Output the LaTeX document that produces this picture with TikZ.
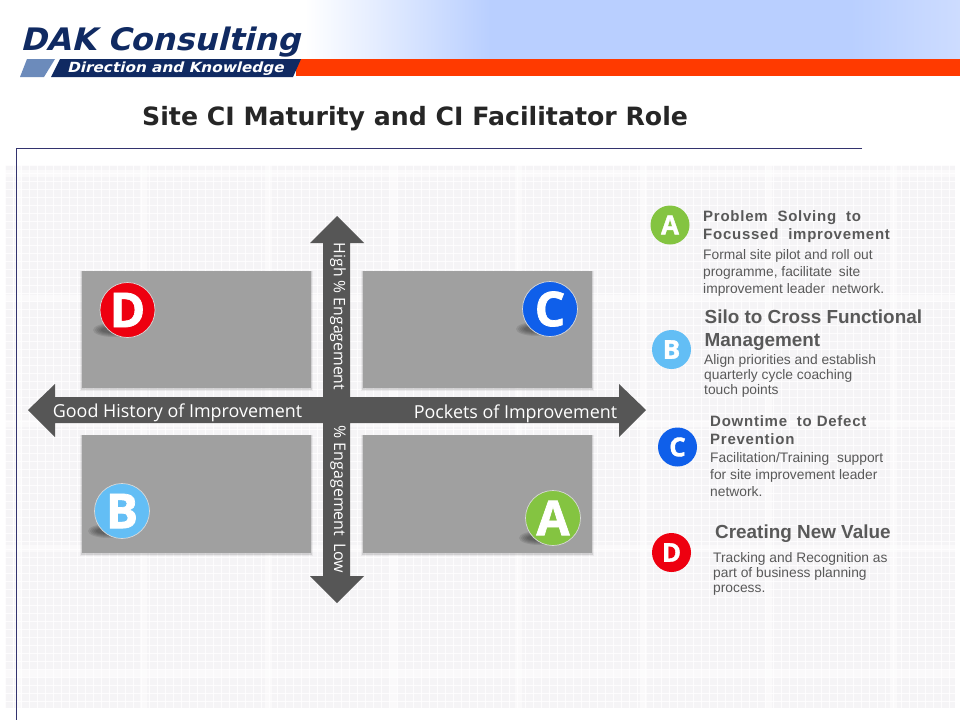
\documentclass[tikz,border=0pt]{standalone}
\usepackage{fontspec}
\setmainfont{Liberation Sans}
\newfontfamily\tah{DejaVu Sans}
\newfontfamily\vera{Open Sans}
\usetikzlibrary{shadows,fadings,calc}
\definecolor{navy}{HTML}{102A62}
\definecolor{steel}{HTML}{6C8BBB}
\definecolor{redbar}{HTML}{FF3A00}
\definecolor{sky}{HTML}{B9CFFF}
\definecolor{skyend}{HTML}{CDDCFF}
\definecolor{frameblue}{HTML}{33336E}
\definecolor{arrowgrey}{HTML}{565656}
\definecolor{boxgrey}{HTML}{A0A0A0}
\definecolor{txtgrey}{HTML}{595959}
\definecolor{bgtex}{HTML}{F5F4F6}
\definecolor{cA}{HTML}{84C441}
\definecolor{cB}{HTML}{63BEF5}
\definecolor{cC}{HTML}{0F5FEA}
\definecolor{cD}{HTML}{EE0010}
\tikzset{
 x=1pt,y=-1pt,
 quad/.style={fill=boxgrey,draw=none},
 badge/.style={circle,draw=white!85!black,line width=.7pt,inner sep=0pt,minimum size=55pt,text=white,font=\vera\bfseries\addfontfeatures{FakeBold=1.5}\fontsize{48}{48}\selectfont},
 tag/.style={circle,inner sep=0pt,minimum size=39pt,text=white,font=\vera\bfseries\addfontfeatures{FakeBold=1.5}\fontsize{26}{26}\selectfont},
 head/.style={anchor=north west,inner sep=0pt,align=left,text=txtgrey,font=\addfontfeatures{LetterSpace=5}\bfseries\fontsize{15}{18}\selectfont},
 heads/.style={anchor=north west,inner sep=0pt,align=left,text=txtgrey,font=\bfseries\fontsize{18.9}{23}\selectfont},
 body/.style={anchor=north west,inner sep=0pt,align=left,text=txtgrey,font=\fontsize{13.8}{17}\selectfont},
 axis/.style={text=white,inner sep=0pt,font=\vera\fontsize{17.9}{18}\selectfont},
 vaxis/.style={text=white,inner sep=0pt,rotate=-90},
}
\begin{document}
\begin{tikzpicture}
\useasboundingbox (0,0) rectangle (960,720);
\fill[white] (0,0) rectangle (960,720);
% header
\shade[left color=white,right color=sky] (305,0) rectangle (490,59);
\fill[sky] (490,0) rectangle (850,59);
\shade[left color=sky,right color=skyend] (850,0) rectangle (960,59);
\fill[redbar] (296,59) rectangle (960,76);
% background texture
\fill[bgtex] (5,165) rectangle (955,708);
\foreach \x in {5,13,...,955} \draw[white,line width=.8pt,opacity=.8] (\x,165) -- (\x,708);
\foreach \y in {165,173,...,708} \draw[white,line width=.8pt,opacity=.8] (5,\y) -- (955,\y);
\foreach \x in {18,143,...,955} \draw[white,line width=7pt,opacity=.5] (\x,165) -- (\x,708);
\foreach \y in {173,298,...,708} \draw[white,line width=7pt,opacity=.5] (5,\y) -- (955,\y);
% frame
\draw[frameblue,line width=.8pt] (862,148) -- (16,148) -- (16,720);
% logo
\node[anchor=base west,inner sep=0pt,text=navy,xslant=.25] (logo) at (20,50) {\scalebox{1.03}[1]{\tah\bfseries\fontsize{31}{31}\selectfont DAK Consulting}};
\fill[steel] (27,59) -- (55,59) -- (44,77) -- (20,77) -- cycle;
\fill[navy] (60,59) -- (301,59) -- (293,77) -- (51,77) -- cycle;
\node[anchor=base west,inner sep=0pt,text=white,xslant=.25] (tagline) at (67,72) {\scalebox{1.09}[1]{\tah\bfseries\fontsize{14}{14}\selectfont Direction and Knowledge}};
% title
\node[anchor=base west,inner sep=0pt,text=black!85,font=\tah\bfseries\fontsize{25.2}{25}\selectfont] (title) at (142,125) {Site CI Maturity and CI Facilitator Role};
% quadrants
\foreach \a/\b/\c/\d in {82/271/311/388,363/271/592/388,82/435/311/553,363/435/592/553}{
 \fill[black,opacity=.05] (\a-2,\b) rectangle (\c+2,\d+3);
 \fill[black,opacity=.10] (\a-1,\b) rectangle (\c+1,\d+2);
 \fill[quad] (\a,\b) rectangle (\c,\d);
}
% cross
\fill[arrowgrey] (28,410) -- (55,384) -- (55,397) -- (323,397) -- (323,243) -- (310,243) -- (337,216) -- (364,243) -- (350,243) -- (350,397) -- (619,397) -- (619,384) -- (646,410) -- (619,437) -- (619,423) -- (350,423) -- (350,576) -- (364,576) -- (337,603) -- (310,576) -- (323,576) -- (323,423) -- (55,423) -- (55,437) -- cycle;
\node[axis] (lft) at (177.5,412.5) {Good History of Improvement};
\node[axis] (rgt) at (515.5,413.5) {Pockets of Improvement};
\node[vaxis,font=\vera\fontsize{15.8}{16}\selectfont] (up) at (338,316.5) {High \% Engagement};
\node[vaxis,font=\vera\fontsize{16}{16}\selectfont] (dn) at (338,499.5) {\% Engagement\, Low};
% badge shadows
\foreach \x/\y in {127/310,550/309,122/511,553/518}{
 \foreach \r/\s in {20/7,18/6,16/5,14/4,12/3}{
  \fill[black,opacity=.09] (\x-14,\y+20) ellipse (\r pt and \s pt);
 }
}
\node[badge,fill=cD] (bD) at (127.5,310) {D};
\node[badge,fill=cC] (bC) at (550,309) {C};
\node[badge,fill=cB] (bB) at (122,511) {B};
\node[badge,fill=cA] (bA) at (553,518) {A};
% legend
\node[tag,fill=cA] (tA) at (670,225) {A};
\node[tag,fill=cB] (tB) at (671.5,349.5) {B};
\node[tag,fill=cC] (tC) at (677.5,447) {C};
\node[tag,fill=cD] (tD) at (671.5,552.5) {D};
\node[head] (hA) at (703,210) {Problem\ \ Solving\ \ to\\Focussed\ \ improvement};
\node[body] (tA2) at (703,249) {Formal site pilot and roll out\\programme, facilitate\hspace{3pt} site\\improvement leader\hspace{3pt} network.};
\node[heads] (hB) at (704.5,310) {Silo to Cross Functional\\Management};
\node[body,font=\fontsize{13.8}{15}\selectfont] (tB2) at (704,354) {Align priorities and establish\\quarterly cycle coaching\\touch points};
\node[head] (hC) at (710,415) {Downtime\ \ to Defect\\Prevention};
\node[body] (tC2) at (710,452.5) {Facilitation/Training\hspace{4pt} support\\for site improvement leader\\network.};
\node[heads] (hD) at (715,525) {Creating New Value};
\node[body,font=\fontsize{13.8}{15}\selectfont] (tD2) at (713,552) {Tracking and Recognition as\\part of business planning\\process.};
\end{tikzpicture}
\end{document}
